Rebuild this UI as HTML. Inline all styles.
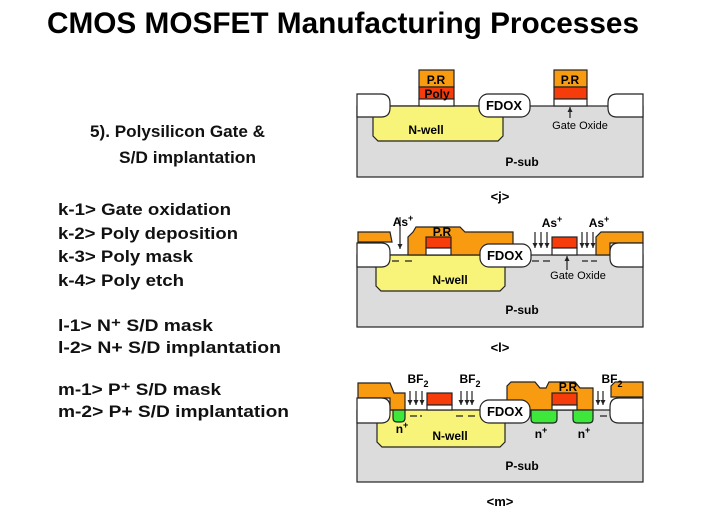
<!DOCTYPE html>
<html><head><meta charset="utf-8"><style>
html,body{margin:0;padding:0;background:#fff;}
svg{display:block;font-family:"Liberation Sans",Arial,sans-serif;}
</style></head><body>
<svg width="712" height="514" viewBox="0 0 712 514" xmlns="http://www.w3.org/2000/svg">
<defs><marker id="a" markerWidth="5" markerHeight="5" refX="5" refY="2.5" orient="auto" markerUnits="userSpaceOnUse"><path d="M0,0 L5,2.5 L0,5 Z" fill="#222"/></marker></defs>
<text x="47" y="33" font-size="30" font-weight="bold" textLength="592" lengthAdjust="spacingAndGlyphs">CMOS MOSFET Manufacturing Processes</text>
<g font-size="17" font-weight="bold" fill="#111">
<text x="90" y="137" textLength="175" lengthAdjust="spacingAndGlyphs">5). Polysilicon Gate &amp;</text>
<text x="119" y="163" textLength="137" lengthAdjust="spacingAndGlyphs">S/D implantation</text>
<text x="58" y="215" textLength="173" lengthAdjust="spacingAndGlyphs">k-1&gt; Gate oxidation</text>
<text x="58" y="239" textLength="180" lengthAdjust="spacingAndGlyphs">k-2&gt; Poly deposition</text>
<text x="58" y="262" textLength="135" lengthAdjust="spacingAndGlyphs">k-3&gt; Poly mask</text>
<text x="58" y="286" textLength="126" lengthAdjust="spacingAndGlyphs">k-4&gt; Poly etch</text>
<text x="58" y="331" textLength="155" lengthAdjust="spacingAndGlyphs">l-1&gt; N⁺ S/D mask</text>
<text x="58" y="353" textLength="223" lengthAdjust="spacingAndGlyphs">l-2&gt; N+ S/D implantation</text>
<text x="58" y="395" textLength="163" lengthAdjust="spacingAndGlyphs">m-1&gt; P⁺ S/D mask</text>
<text x="58" y="417" textLength="231" lengthAdjust="spacingAndGlyphs">m-2&gt; P+ S/D implantation</text>
</g>

<!-- Diagram j -->
<g stroke="#222" stroke-width="1.2">
<rect x="357" y="106" width="286" height="71" fill="#dcdcdc"/>
<path d="M373,106 H503 V136 L498,141 H378 L373,136 Z" fill="#f8f47a"/>
<path d="M357,94 H381 Q390,94 390,103 V108 Q390,117 381,117 H357 Z" fill="#fff"/>
<rect x="479" y="94" width="51" height="23" rx="9" fill="#fff"/>
<path d="M643,94 H617 Q608,94 608,103 V108 Q608,117 617,117 H643 Z" fill="#fff"/>
<rect x="419" y="70" width="35" height="17" fill="#f99b10"/>
<rect x="419" y="87" width="35" height="12" fill="#f53c0a"/>
<rect x="419" y="99" width="35" height="7" fill="#fff"/>
<rect x="554" y="70" width="33" height="17" fill="#f99b10"/>
<rect x="554" y="87" width="33" height="12" fill="#f53c0a"/>
<rect x="554" y="99" width="33" height="7" fill="#fff"/>
<line x1="570" y1="118" x2="570" y2="107" marker-end="url(#a)"/>
</g>
<g font-size="12" font-weight="bold" text-anchor="middle">
<text x="436" y="84">P.R</text><text x="437" y="98">Poly</text>
<text x="570" y="84">P.R</text>
<text x="504" y="110" font-size="13">FDOX</text>
<text x="426" y="134">N-well</text>
<text x="522" y="166">P-sub</text>
<text x="580" y="129" font-size="11" font-weight="normal">Gate Oxide</text>
<text x="500" y="201" font-size="13">&lt;j&gt;</text>
</g>

<!-- Diagram l -->
<g stroke="#222" stroke-width="1.2">
<rect x="357" y="255" width="286" height="72" fill="#dcdcdc"/>
<path d="M376,255 H505 V286 L500,291 H381 L376,286 Z" fill="#f8f47a"/>
<path d="M358,232 H390 L392,242 H358 Z" fill="#f99b10"/>
<path d="M408,255 V237 L413,232 L416,227 H460 L465,232 H513 V255 Z" fill="#f99b10"/>
<path d="M596,255 V237 L601,232 H643 V243 H610 V255 Z" fill="#f99b10"/>
<path d="M357,243 H381 Q390,243 390,252 V258 Q390,267 381,267 H357 Z" fill="#fff"/>
<rect x="480" y="244" width="51" height="23" rx="9" fill="#fff"/>
<path d="M643,243 H619 Q610,243 610,252 V258 Q610,267 619,267 H643 Z" fill="#fff"/>
<rect x="426" y="237" width="25" height="11" fill="#f53c0a"/>
<rect x="426" y="248" width="25" height="7" fill="#fff"/>
<rect x="552" y="237" width="25" height="11" fill="#f53c0a"/>
<rect x="552" y="248" width="25" height="7" fill="#fff"/>
<line x1="567" y1="270" x2="567" y2="256" marker-end="url(#a)"/>
<path d="M392,261 H399 M405,261 H412 M532,261 H539 M543,261 H550 M582,261 H588 M591,261 H597"/>
<g marker-end="url(#a)">
<line x1="400" y1="217" x2="400" y2="249"/>
<line x1="535" y1="232" x2="535" y2="248"/><line x1="541" y1="232" x2="541" y2="248"/><line x1="547" y1="232" x2="547" y2="248"/>
<line x1="582" y1="232" x2="582" y2="248"/><line x1="587" y1="232" x2="587" y2="248"/><line x1="593" y1="232" x2="593" y2="248"/>
</g>
</g>
<g font-size="12" font-weight="bold" text-anchor="middle">
<text x="403" y="226">As<tspan dy="-5" font-size="9">+</tspan></text>
<text x="552" y="227">As<tspan dy="-5" font-size="9">+</tspan></text>
<text x="599" y="227">As<tspan dy="-5" font-size="9">+</tspan></text>
<text x="442" y="236">P.R</text>
<text x="505" y="260" font-size="13">FDOX</text>
<text x="450" y="284">N-well</text>
<text x="522" y="314">P-sub</text>
<text x="578" y="279" font-size="11" font-weight="normal">Gate Oxide</text>
<text x="500" y="352" font-size="13">&lt;l&gt;</text>
</g>

<!-- Diagram m -->
<g stroke="#222" stroke-width="1.2">
<rect x="357" y="410" width="286" height="72" fill="#dcdcdc"/>
<path d="M377,410 H505 V442 L500,447 H382 L377,442 Z" fill="#f8f47a"/>
<path d="M358,383 H390 L394,393 H405 V410 H390 V398 H358 Z" fill="#f99b10"/>
<path d="M507,410 V386 L511,382 H535 L540,388 H546 L549,382 H575 L580,388 H593 V410 Z" fill="#f99b10"/>
<path d="M611,397 V386 L615,382 H643 V397 Z" fill="#f99b10"/>
<path d="M357,398 H381 Q390,398 390,407 V414 Q390,423 381,423 H357 Z" fill="#fff"/>
<rect x="480" y="400" width="50" height="23" rx="9" fill="#fff"/>
<path d="M643,398 H619 Q610,398 610,407 V414 Q610,423 619,423 H643 Z" fill="#fff"/>
<path d="M393,410 H405 V418 Q405,422 401,422 H397 Q393,422 393,418 Z" fill="#3ee83a"/>
<path d="M531,410 H557 V419 Q557,423 553,423 H535 Q531,423 531,419 Z" fill="#3ee83a"/>
<path d="M573,410 H593 V419 Q593,423 589,423 H577 Q573,423 573,419 Z" fill="#3ee83a"/>
<rect x="427" y="393" width="25" height="12" fill="#f53c0a"/>
<rect x="427" y="405" width="25" height="5" fill="#fff"/>
<rect x="552" y="393" width="25" height="12" fill="#f53c0a"/>
<rect x="552" y="405" width="25" height="5" fill="#fff"/>
<g marker-end="url(#a)">
<line x1="410" y1="391" x2="410" y2="405"/><line x1="416" y1="391" x2="416" y2="405"/><line x1="422" y1="391" x2="422" y2="405"/>
<line x1="461" y1="391" x2="461" y2="405"/><line x1="467" y1="391" x2="467" y2="405"/><line x1="472" y1="391" x2="472" y2="405"/>
<line x1="598" y1="391" x2="598" y2="405"/><line x1="603" y1="391" x2="603" y2="405"/>
</g>
<path d="M410,416 H417 M420,416 H422 M456,416 H463 M468,416 H475 M600,416 H607"/>
</g>
<g font-size="12" font-weight="bold" text-anchor="middle">
<text x="418" y="383">BF<tspan dy="4" font-size="9">2</tspan></text>
<text x="470" y="383">BF<tspan dy="4" font-size="9">2</tspan></text>
<text x="612" y="383">BF<tspan dy="4" font-size="9">2</tspan></text>
<text x="568" y="391">P.R</text>
<text x="505" y="416" font-size="13">FDOX</text>
<text x="402" y="433">n<tspan dy="-5" font-size="9">+</tspan></text>
<text x="541" y="438">n<tspan dy="-5" font-size="9">+</tspan></text>
<text x="584" y="438">n<tspan dy="-5" font-size="9">+</tspan></text>
<text x="450" y="440">N-well</text>
<text x="522" y="470">P-sub</text>
<text x="500" y="506" font-size="13">&lt;m&gt;</text>
</g>
</svg>
</body></html>
